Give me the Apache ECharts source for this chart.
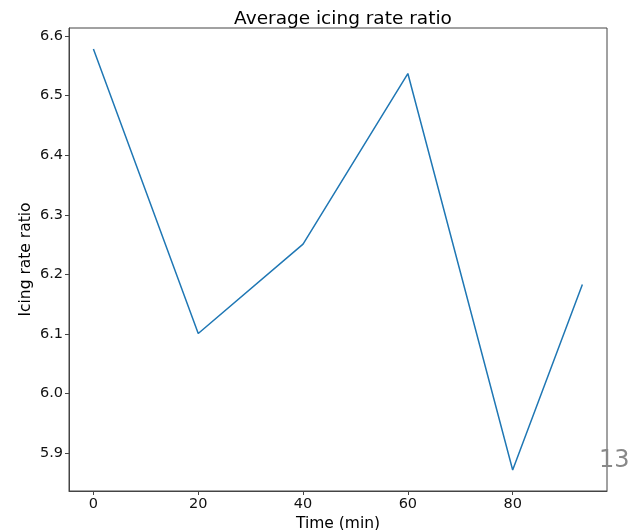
<!DOCTYPE html>
<html>
<head>
<meta charset="utf-8">
<script src="https://cdn.jsdelivr.net/npm/echarts@6/dist/echarts.min.js"></script>
<style>html,body{margin:0;padding:0;background:#fff}#c{width:638px;height:530px}</style>
</head>
<body>
<div id="c"></div>
<script>
const times = [0, 20, 40, 60, 80, 93.3];
const ratios = [6.578, 6.101, 6.251, 6.537, 5.872, 6.183];
const xTicks = [0, 20, 40, 60, 80];
const yTicks = [5.9, 6.0, 6.1, 6.2, 6.3, 6.4, 6.5, 6.6];

const chart = echarts.init(document.getElementById('c'));
const font = 'DejaVu Sans';
chart.setOption({
  animation: false,
  title: {
    text: 'Average icing rate ratio',
    left: 338, top: 5, textAlign: 'center',
    textStyle: {fontFamily: font, fontSize: 18.5, fontWeight: 'normal', color: '#000'}
  },
  grid: {left: 69, right: 31, top: 28, bottom: 39, show: true, borderColor: '#444', borderWidth: 1,
         containLabel: false, outerBoundsMode: 'none'},
  xAxis: {
    type: 'value', min: -4.66, max: 98.0,
    name: 'Time (min)', nameLocation: 'middle', nameGap: 25, nameMoveOverlap: false,
    nameTextStyle: {fontFamily: font, fontSize: 15.5, color: '#000'},
    axisLine: {show: true, onZero: false, lineStyle: {color: '#444'}},
    axisTick: {show: true, length: 4, lineStyle: {color: '#444'}, customValues: xTicks},
    axisLabel: {fontFamily: font, fontSize: 14.5, color: '#111', margin: 6, customValues: xTicks, formatter: v => String(v)},
    splitLine: {show: false}
  },
  yAxis: {
    type: 'value', min: 5.8368, max: 6.6134,
    name: 'Icing rate ratio', nameLocation: 'middle', nameGap: 35, nameRotate: 90, nameMoveOverlap: false,
    nameTextStyle: {fontFamily: font, fontSize: 15.5, color: '#000'},
    axisLine: {show: true, onZero: false, lineStyle: {color: '#444'}},
    axisTick: {show: true, length: 4, lineStyle: {color: '#444'}, customValues: yTicks},
    axisLabel: {fontFamily: font, fontSize: 14.5, color: '#111', margin: 6, customValues: yTicks, formatter: v => v.toFixed(1)},
    splitLine: {show: false}
  },
  graphic: [{
    type: 'text', left: 599, top: 449,
    style: {text: '13', fontFamily: font, fontSize: 24, fill: '#888'}
  }],
  series: [{
    type: 'line',
    data: times.map((t, i) => [t, ratios[i]]),
    showSymbol: false,
    lineStyle: {color: '#1f77b4', width: 1.5}
  }]
});
</script>
</body>
</html>
